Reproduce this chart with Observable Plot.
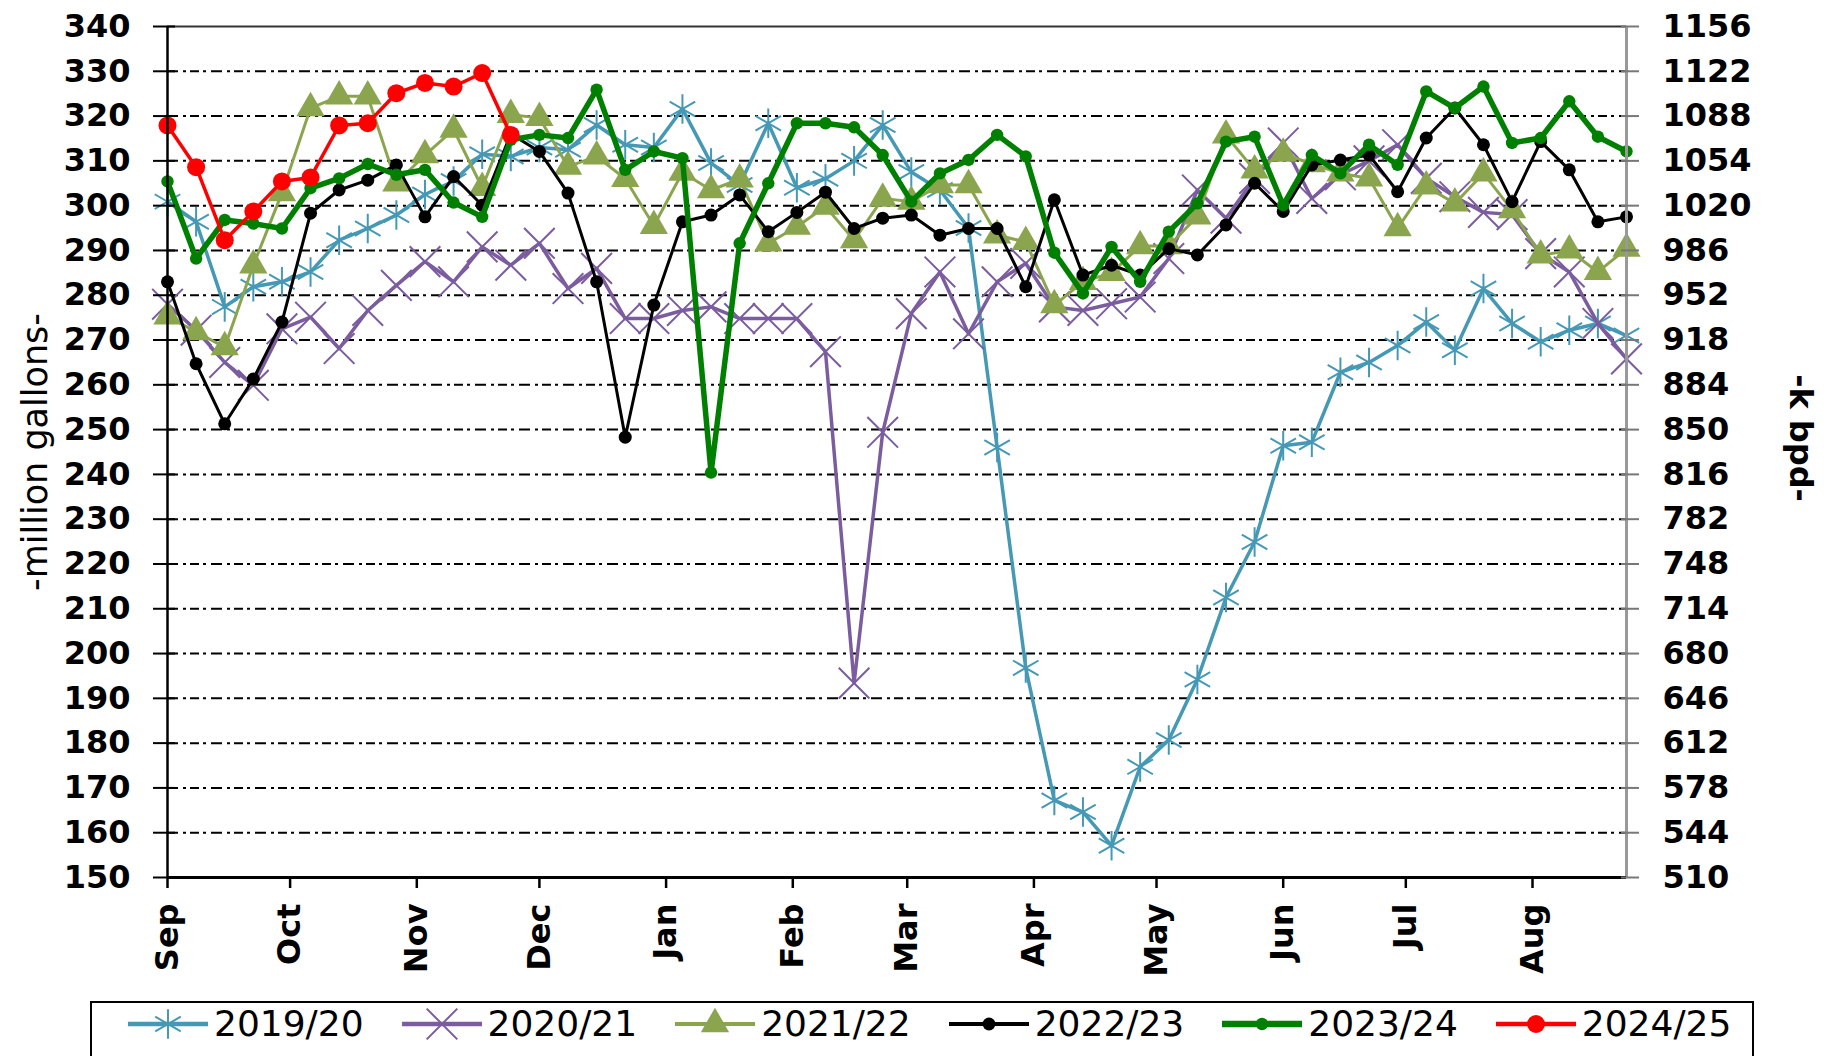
<!DOCTYPE html>
<html><head><meta charset="utf-8">
<script src="https://cdn.jsdelivr.net/npm/d3@7"></script>
<script src="https://cdn.jsdelivr.net/npm/@observablehq/plot@0.6"></script>
<style>
body{margin:0;background:#fff;}
#chart svg{display:block}
#legend{position:absolute;left:90px;top:1001px;width:1664px;height:80px;border:2px solid #000;box-sizing:border-box;display:flex;align-items:flex-start;padding-left:34px;background:#fff;}
.item{display:flex;align-items:center;margin-right:36px;font-family:"DejaVu Sans";font-size:36px;height:40px;color:#000;white-space:nowrap}
.item svg{margin-right:4px}
</style></head><body>
<div id="chart"></div><div id="legend"></div>
<script>
// ---- data ----
const seasons = ["2019/20","2020/21","2021/22","2022/23","2023/24","2024/25"];
const monthLabels = ["Sep","Oct","Nov","Dec","Jan","Feb","Mar","Apr","May","Jun","Jul","Aug"];
const yTicks = [150,160,170,180,190,200,210,220,230,240,250,260,270,280,290,300,310,320,330,340];
const kbpdLabels = ["510","544","578","612","646","680","714","748","782","816","850","884","918","952","986","1020","1054","1088","1122","1156"];

const v2019_20 = [300.9,296.4,277.4,281.9,283.0,285.2,292.3,294.9,297.9,302.5,305.5,311.5,311.0,313.0,312.5,318.0,313.6,313.0,321.6,309.5,304.6,318.4,304.0,306.0,310.0,318.0,307.5,303.5,295.0,246.0,196.8,167.2,164.6,157.1,174.7,180.7,194.2,212.5,224.9,246.4,247.2,262.8,265.0,268.8,274.0,267.7,281.5,273.7,269.6,272.2,273.7,271.0];
const v2020_21 = [278.0,272.2,265.0,259.9,272.5,275.1,268.1,276.6,282.2,287.5,283.0,290.8,286.7,291.6,281.5,286.0,274.8,274.8,276.6,277.4,274.8,274.8,274.8,267.4,193.4,249.4,275.9,285.2,271.4,283.0,287.1,277.4,276.6,278.1,279.6,288.2,303.5,297.2,306.1,314.0,301.6,306.9,310.0,313.6,306.1,302.0,298.5,298.0,289.3,285.2,273.7,265.8];
const v2021_22 = [275.3,271.8,268.4,286.7,302.8,321.8,324.4,324.4,305.0,311.3,317.0,304.0,320.3,319.6,308.7,311.0,306.0,295.5,307.4,303.5,305.9,291.6,295.3,299.8,292.3,301.6,300.9,304.6,304.6,293.4,291.9,277.8,283.0,285.0,291.0,291.0,297.6,315.7,307.9,311.6,309.3,307.2,306.1,295.0,304.3,300.5,307.2,299.0,288.9,290.0,285.2,290.4];
const v2022_23 = [283.0,264.7,251.3,261.3,274.0,298.3,303.5,305.7,309.1,297.5,306.5,300.1,316.0,312.1,302.8,283.0,248.3,277.8,296.4,297.9,302.4,294.2,298.5,303.0,294.9,297.2,297.9,293.4,294.9,294.9,281.9,301.3,284.5,286.7,284.5,290.4,289.0,295.7,305.0,298.7,309.1,310.2,311.3,303.1,315.1,321.8,313.6,300.9,314.3,308.0,296.4,297.5];
const v2023_24 = [305.4,288.2,296.8,296.0,294.9,303.9,306.1,309.3,306.9,308.0,300.7,297.5,314.7,315.8,315.1,325.9,308.0,312.1,310.6,240.4,291.6,305.0,318.4,318.4,317.5,311.3,300.9,307.2,310.2,315.8,311.0,289.5,280.4,290.8,283.0,294.2,300.5,314.3,315.4,300.1,311.3,307.2,313.6,309.1,325.5,321.8,326.6,314.0,315.1,323.3,315.4,312.1];
const v2024_25 = [317.9,308.6,292.3,298.7,305.4,306.3,317.9,318.4,325.1,327.4,326.6,329.6,315.8];
const seriesValues = [v2019_20, v2020_21, v2021_22, v2022_23, v2023_24, v2024_25];

// ---- styles ----
const styles = [
  {color:"#4599b5", width:3.5, symbol:"asterisk", r:14, filled:false, sw:2},
  {color:"#7b5c9f", width:3.5, symbol:"times",    r:14, filled:false, sw:2},
  {color:"#8ba54f", width:3,   symbol:"triangle", r:10.5, filled:true},
  {color:"#000000", width:3,   symbol:"circle",   r:6.5, filled:true},
  {color:"#008000", width:5.5, symbol:"circle",   r:6.2, filled:true},
  {color:"#ff0000", width:3.5, symbol:"circle",   r:9,   filled:true}
];

const seasonStart = new Date(Date.UTC(2022, 8, 1));
const weekDate = i => d3.utcDay.offset(seasonStart, 7 * i);
const monthDates = monthLabels.map((m, i) => new Date(Date.UTC(2022, 8 + i, 1)));
const monthName = new Map(monthDates.map((d, i) => [+d, monthLabels[i]]));
const kLabel = new Map(yTicks.map((v, i) => [v, kbpdLabels[i]]));

const rows = [];
seasons.forEach((s, k) => seriesValues[k].forEach((v, i) => rows.push({season: s, date: weekDate(i), value: v})));

const xEnd = weekDate(51);
const fontB = {fontFamily: "DejaVu Sans", fontWeight: "bold", fontSize: 32, fill: "#000"};

const seriesMarks = [];
seasons.forEach((s, k) => {
  const st = styles[k];
  const data = rows.filter(r => r.season === s);
  seriesMarks.push(Plot.line(data, {x: "date", y: "value", stroke: st.color, strokeWidth: st.width, strokeLinejoin: "round"}));
  seriesMarks.push(Plot.dot(data, {x: "date", y: "value", symbol: st.symbol, r: st.r,
    fill: st.filled ? st.color : "none", stroke: st.filled ? "none" : st.color, strokeWidth: st.sw || 1}));
});

const chart = Plot.plot({
  width: 1827, height: 1000,
  marginLeft: 167, marginRight: 201, marginTop: 26, marginBottom: 123,
  style: {background: "#fff", overflow: "visible"},
  x: {type: "utc", domain: [seasonStart, xEnd]},
  y: {domain: [150, 340]},
  marks: [
    Plot.gridY(yTicks.filter(v => v > 150 && v < 340), {stroke: "#000", strokeOpacity: 1, strokeWidth: 2, strokeDasharray: "11,5,3,4,9,4,3,5"}),
    ...seriesMarks,
    Plot.ruleY([340], {stroke: "#333", strokeWidth: 2}),
    Plot.ruleX([xEnd], {stroke: "#999", strokeWidth: 3}),
    Plot.ruleX([seasonStart], {stroke: "#000", strokeWidth: 2.5}),
    Plot.ruleY([150], {stroke: "#000", strokeWidth: 3}),
    // left axis: crossing ticks + labels
    Plot.axisY(yTicks, {anchor: "left", tickSize: 22, dx: 8, stroke: "#000", strokeWidth: 2, fill: "none", label: null, tickFormat: () => ""}),
    Plot.axisY(yTicks, {anchor: "left", tickSize: 0, tickPadding: 37, label: null, tickFormat: d => String(d), ...fontB}),
    // right axis
    Plot.axisY(yTicks, {anchor: "right", tickSize: 18, dx: -6, stroke: "#777", strokeWidth: 2, fill: "none", label: null, tickFormat: () => ""}),
    Plot.axisY(yTicks, {anchor: "right", tickSize: 0, tickPadding: 36, label: null, tickFormat: d => kLabel.get(d), ...fontB}),
    // x axis
    Plot.axisX(monthDates, {anchor: "bottom", tickSize: 11, stroke: "#000", strokeWidth: 2.5, tickPadding: 15, tickRotate: -90, label: null, tickFormat: d => monthName.get(+d), ...fontB}),
    // titles
    Plot.text(["-million gallons-"], {text: d => d, frameAnchor: "left", dx: -132, rotate: -90, textAnchor: "middle", fontFamily: "DejaVu Sans", fontSize: 35, fill: "#000"}),
    Plot.text(["-k bpd-"], {text: d => d, frameAnchor: "right", dx: 174, dy: -14, rotate: 90, textAnchor: "middle", ...fontB})
  ]
});
document.getElementById("chart").appendChild(chart);

// ---- legend ----
const legend = d3.select("#legend");
seasons.forEach((s, k) => {
  const st = styles[k];
  const item = legend.append("div").attr("class", "item");
  const svg = item.append("svg").attr("width", 84).attr("height", 40);
  svg.append("line").attr("x1", 2).attr("x2", 82).attr("y1", 21).attr("y2", 21)
    .attr("stroke", st.color).attr("stroke-width", st.width + 1);
  const typeMap = {asterisk: d3.symbolAsterisk, times: d3.symbolTimes, triangle: d3.symbolTriangle, circle: d3.symbolCircle};
  svg.append("path").attr("transform", "translate(42,21)")
    .attr("d", d3.symbol(typeMap[st.symbol], Math.PI * st.r * st.r)())
    .attr("fill", st.filled ? st.color : "none")
    .attr("stroke", st.filled ? "none" : st.color)
    .attr("stroke-width", st.sw || 1);
  item.append("span").text(s);
});
</script></body></html>
